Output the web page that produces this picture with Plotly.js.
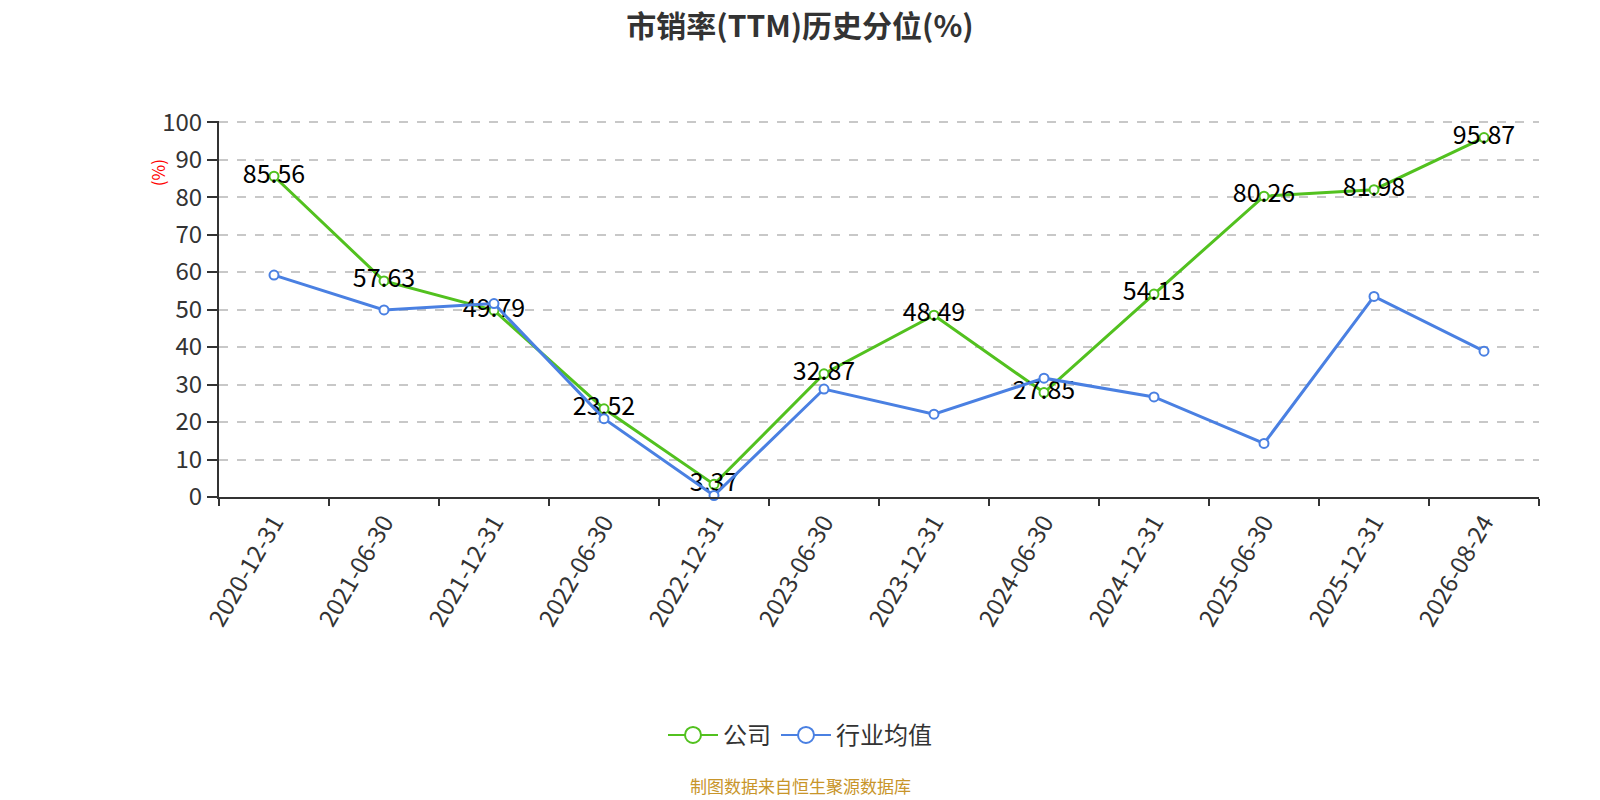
<!DOCTYPE html>
<html>
<head>
<meta charset="utf-8">
<script src="https://cdn.plot.ly/plotly-3.0.1.min.js"></script>
<style>
  body { margin: 0; background: #fff; }
  #graph { width: 1600px; height: 800px; }
</style>
</head>
<body>
<div id="graph"></div>
<script>
let dates = ["2020-12-31", "2021-06-30", "2021-12-31", "2022-06-30", "2022-12-31", "2023-06-30",
  "2023-12-31", "2024-06-30", "2024-12-31", "2025-06-30", "2025-12-31", "2026-08-24"];
let company = [85.56, 57.63, 49.79, 23.52, 3.37, 32.87, 48.49, 27.85, 54.13, 80.26, 81.98, 95.87];
let industry = [59.2, 49.9, 51.6, 20.9, 0.4, 28.8, 22.1, 31.7, 26.7, 14.3, 53.5, 38.9];
let yTicks = [0, 10, 20, 30, 40, 50, 60, 70, 80, 90, 100];

let font = "'Noto Sans CJK SC', 'Noto Sans', sans-serif";
let green = "#52c11f";
let blue = "#4a80e2";

// page centre in paper coords (plot area runs 219..1539 px)
let pageMid = (800 - 219) / 1320;

function graph() {
  let trace1 = {
    x: dates,
    y: company,
    name: "公司",
    type: "scatter",
    mode: "lines+markers+text",
    text: company.map(function (v) { return v.toFixed(2); }),
    textposition: "middle center",
    textfont: { size: 25, color: "#000", family: font },
    line: { color: green, width: 3 },
    marker: { symbol: "circle", size: 9, color: "#fff", line: { color: green, width: 2 } },
    cliponaxis: false,
    showlegend: false,
    hoverinfo: "skip",
  };
  let trace2 = {
    x: dates,
    y: industry,
    name: "行业均值",
    type: "scatter",
    mode: "lines+markers",
    line: { color: blue, width: 3 },
    marker: { symbol: "circle", size: 9, color: "#fff", line: { color: blue, width: 2 } },
    cliponaxis: false,
    showlegend: false,
    hoverinfo: "skip",
  };
  // legend-only entries with bigger symbols
  let leg1 = {
    x: [null], y: [null], name: "公司", type: "scatter", mode: "lines+markers",
    line: { color: green, width: 2 },
    marker: { symbol: "circle", size: 20, color: "#fff", line: { color: green, width: 2 } },
    hoverinfo: "skip",
  };
  let leg2 = {
    x: [null], y: [null], name: "行业均值", type: "scatter", mode: "lines+markers",
    line: { color: blue, width: 2 },
    marker: { symbol: "circle", size: 20, color: "#fff", line: { color: blue, width: 2 } },
    hoverinfo: "skip",
  };
  let layout = {
    width: 1600,
    height: 800,
    paper_bgcolor: "#fff",
    plot_bgcolor: "#fff",
    font: { family: font, color: "#333" },
    title: {
      text: "<b>市销率(TTM)历史分位(%)</b>",
      font: { size: 30, color: "#333", family: font },
      x: 0.5,
      xanchor: "center",
      y: 0.9675,
      yanchor: "middle",
    },
    margin: { l: 219, r: 61, t: 121, b: 303 },
    xaxis: {
      type: "category",
      range: [-0.5, dates.length - 0.5],
      tickson: "boundaries",
      ticks: "outside",
      ticklen: 7,
      tickcolor: "#333",
      tickwidth: 1.5,
      showline: true,
      linecolor: "#333",
      linewidth: 2,
      showgrid: false,
      tickangle: -60,
      tickfont: { size: 24, color: "#333", family: font },
      fixedrange: true,
    },
    yaxis: {
      range: [0, 100.3],
      tickvals: yTicks,
      ticks: "outside",
      ticklen: 10,
      tickcolor: "#333",
      tickwidth: 1.5,
      showline: true,
      linecolor: "#333",
      linewidth: 2,
      showgrid: true,
      gridcolor: "#c8c8c8",
      griddash: "dash",
      gridwidth: 1.5,
      zeroline: false,
      tickfont: { size: 24, color: "#333", family: font },
      fixedrange: true,
    },
    showlegend: true,
    legend: {
      orientation: "h",
      x: pageMid,
      xanchor: "center",
      y: -0.634,
      yanchor: "middle",
      font: { size: 24, color: "#333", family: font },
      itemwidth: 50,
    },
    annotations: [
      {
        text: "(%)",
        xref: "paper",
        yref: "paper",
        x: -0.058,
        y: 0.905,
        showarrow: false,
        textangle: -90,
        font: { size: 17, color: "red", family: font },
      },
      {
        text: "制图数据来自恒生聚源数据库",
        xref: "paper",
        yref: "paper",
        x: pageMid,
        y: -0.768,
        xanchor: "center",
        yanchor: "middle",
        showarrow: false,
        font: { size: 17, color: "#c8952a", family: font },
      },
    ],
  };

  Plotly.newPlot("graph", [trace1, trace2, leg1, leg2], layout, { displayModeBar: false });
}

graph();
</script>
</body>
</html>
